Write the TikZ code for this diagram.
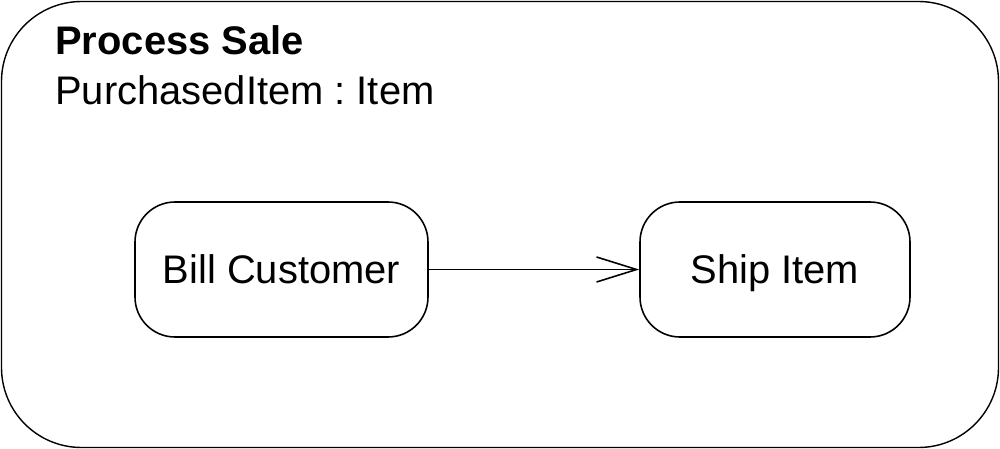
\documentclass[tikz,border=0pt]{standalone}
\usepackage{fontspec}
\setmainfont{Liberation Sans}
\usetikzlibrary{arrows.meta}
\frenchspacing

\tikzset{
    action/.style={draw, line width=0.9pt, rounded corners=0.8cm, minimum height=2.7cm, inner sep=0pt, text height=16.25pt, text depth=0pt, font=\fontsize{22.7}{27}\selectfont},
    flow/.style={line width=0.9pt, -{Straight Barb[length=0.8cm, width=0.5cm, line width=0.9pt]}}
}

\begin{document}
\begin{tikzpicture}
    \useasboundingbox (0,0) rectangle (20,-8.98);

    % Activity frame
    \draw[line width=0.8pt, rounded corners=1.6cm] (0.03,-0.03) rectangle (19.97,-8.95);
    \node[anchor=base west, inner sep=0pt, font=\fontsize{22.7}{27}\selectfont\bfseries] (title) at (1.1,-1.1) {Process Sale};
    \node[anchor=base west, inner sep=0pt, font=\fontsize{22.7}{27}\selectfont] (param) at (1.1,-2.1) {PurchasedItem : Item};

    % Actions
    \node[action, minimum width=5.86cm] (bill) at (5.63,-5.39) {Bill Customer};
    \node[action, minimum width=5.4cm] (ship) at (15.5,-5.39) {Ship Item};

    \draw[flow] (bill) -- (ship);
\end{tikzpicture}
\end{document}
